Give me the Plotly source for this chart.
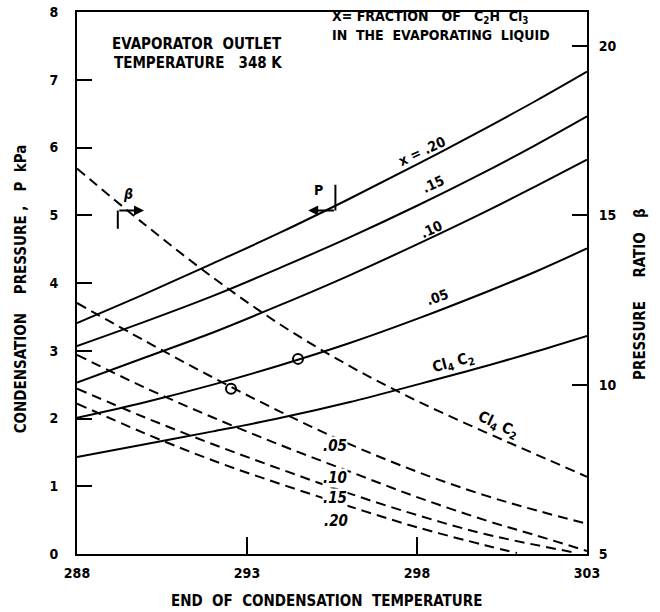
import plotly.graph_objects as go

# ---- data ----
T = [288, 290, 292, 294, 296, 298, 300, 301.5, 303]

# condensation pressure P (kPa), solid lines, left axis
P_x20 = [3.41, 3.84, 4.29, 4.75, 5.24, 5.75, 6.28, 6.69, 7.12]
P_x15 = [3.07, 3.43, 3.81, 4.23, 4.67, 5.14, 5.64, 6.04, 6.46]
P_x10 = [2.53, 2.90, 3.27, 3.68, 4.11, 4.57, 5.05, 5.43, 5.82]
P_x05 = [2.01, 2.24, 2.50, 2.79, 3.11, 3.47, 3.86, 4.17, 4.51]
P_cl4c2 = [1.43, 1.62, 1.81, 2.01, 2.24, 2.50, 2.77, 2.99, 3.22]

# pressure ratio beta, dashed lines, right axis
B_cl4c2 = [16.38, 14.72, 13.16, 11.76, 10.56, 9.52, 8.60, 7.94, 7.28]
B_x05 = [12.41, 11.29, 10.21, 9.19, 8.25, 7.43, 6.73, 6.29, 5.89]
B_x10 = [10.88, 9.91, 9.03, 8.21, 7.44, 6.68, 6.00, 5.55, 5.09]
T_x15 = [288, 290, 292, 294, 296, 298, 300, 302.7]
B_x15 = [9.88, 9.03, 8.24, 7.50, 6.79, 6.15, 5.59, 5.03]
T_x20 = [288, 290, 292, 294, 296, 298, 300, 300.94]
B_x20 = [9.44, 8.56, 7.76, 7.06, 6.41, 5.79, 5.26, 5.03]

# open circles
circ_T_P = [294.5]
circ_P = [2.88]
circ_T_B = [292.53]
circ_B = [9.88]

x_ticks = [288, 293, 298, 303]
y_ticks = [0, 1, 2, 3, 4, 5, 6, 7, 8]
y2_ticks = [5, 10, 15, 20]

FONT = "DejaVu Sans Condensed, Liberation Sans Narrow, Liberation Sans, Arial"

fig = go.Figure()
solid = dict(color="black", width=2)
dashed = dict(color="black", width=2, dash="10px,6px")

for ys in [P_x20, P_x15, P_x10, P_x05, P_cl4c2]:
    fig.add_trace(go.Scatter(x=T, y=ys, mode="lines", line=dict(shape="spline", **solid),
                             showlegend=False, hoverinfo="skip"))
for xs, ys in [(T, B_cl4c2), (T, B_x05), (T, B_x10), (T_x15, B_x15), (T_x20, B_x20)]:
    fig.add_trace(go.Scatter(x=xs, y=ys, mode="lines", yaxis="y2",
                             line=dict(shape="spline", **dashed),
                             showlegend=False, hoverinfo="skip"))
fig.add_trace(go.Scatter(x=circ_T_P, y=circ_P, mode="markers",
                         marker=dict(symbol="circle-open", size=10, color="black", line=dict(width=2)),
                         showlegend=False))
fig.add_trace(go.Scatter(x=circ_T_B, y=circ_B, mode="markers", yaxis="y2",
                         marker=dict(symbol="circle-open", size=10, color="black", line=dict(width=2)),
                         showlegend=False))

tickfont = dict(family=FONT, size=14, color="black", weight="bold")
fig.update_layout(
    width=660, height=612,
    margin=dict(l=77, r=73, t=12, b=58, autoexpand=False),
    paper_bgcolor="white", plot_bgcolor="white",
    font=dict(family=FONT, color="black"),
    xaxis=dict(range=[288, 303], tickvals=x_ticks, ticktext=[str(v) for v in x_ticks],
               ticks="inside", ticklen=17, tickwidth=2, tickcolor="black",
               showline=True, linecolor="black", linewidth=2, mirror=True,
               showgrid=False, zeroline=False, tickfont=tickfont,
               ticklabelstandoff=5, automargin=False),
    yaxis=dict(range=[0, 8], tickvals=y_ticks, ticks="inside", ticklen=15, tickwidth=2,
               tickcolor="black", showline=True, linecolor="black", linewidth=2,
               showgrid=False, zeroline=False, tickfont=tickfont,
               ticklabelstandoff=14, automargin=False),
    yaxis2=dict(range=[5, 21], tickvals=y2_ticks, overlaying="y", side="right",
                ticks="inside", ticklen=15, tickwidth=2, tickcolor="black",
                showline=True, linecolor="black", linewidth=2,
                showgrid=False, zeroline=False, tickfont=tickfont,
                ticklabelstandoff=7, automargin=False),
)

ann = []
def txt(x, y, s, size=14, angle=0, xanchor="center", ref=("x", "y"), bg=None):
    d = dict(x=x, y=y, text=s, showarrow=False, xref=ref[0], yref=ref[1],
             font=dict(family=FONT, size=size, color="black"), textangle=angle,
             xanchor=xanchor, yanchor="middle")
    if bg:
        d["bgcolor"] = bg
        d["borderpad"] = 0
    ann.append(d)

txt(288.97, 7.53, "<b>EVAPORATOR  OUTLET</b>", xanchor="left", size=15)
txt(289.03, 7.24, "<b>TEMPERATURE   348 K</b>", xanchor="left", size=15)
txt(295.44, 7.93, "<b>X= FRACTION   OF   C<sub>2</sub>H  Cl<sub>3</sub></b>", xanchor="left", size=14)
txt(295.44, 7.66, "<b>IN  THE  EVAPORATING  LIQUID</b>", xanchor="left", size=14)

txt(298.15, 5.95, "<b>x = .20</b>", angle=-25)
txt(298.47, 5.46, "<b>.15</b>", angle=-25)
txt(298.44, 4.80, "<b>.10</b>", angle=-25)
txt(298.6, 3.80, "<b>.05</b>", angle=-20)
txt(299.06, 2.83, "<b>Cl<sub>4</sub> C<sub>2</sub></b>", angle=-15, size=15)
txt(300.38, 1.91, "<b>Cl<sub>4</sub> C<sub>2</sub></b>", angle=25, size=15)

txt(295.2, 1.59, "<b><i>.05</i></b>", xanchor="left", bg="white", size=15)
txt(295.2, 1.12, "<b><i>.10</i></b>", xanchor="left", bg="white", size=15)
txt(295.2, 0.82, "<b><i>.15</i></b>", xanchor="left", bg="white", size=15)
txt(295.2, 0.48, "<b><i>.20</i></b>", xanchor="left", size=15)

txt(289.5, 5.32, "<b><i>β</i></b>")
txt(295.1, 5.37, "<b>P</b>")

# axis titles
txt(-0.108, 0.49, "<b>CONDENSATION    PRESSURE ,   P  kPa</b>", angle=-90, size=15, ref=("paper", "paper"))
txt(1.104, 0.48, "<b>PRESSURE     RATIO   β</b>", angle=-90, size=15, ref=("paper", "paper"))
txt(0.49, -0.087, "<b>END  OF  CONDENSATION  TEMPERATURE</b>", size=15, ref=("paper", "paper"))

# direction indicators
ann.append(dict(x=289.97, y=5.07, ax=289.2, ay=5.07, xref="x", yref="y", axref="x", ayref="y",
                showarrow=True, arrowhead=2, arrowsize=1, arrowwidth=2, arrowcolor="black", text=""))
ann.append(dict(x=294.8, y=5.07, ax=295.6, ay=5.07, xref="x", yref="y", axref="x", ayref="y",
                showarrow=True, arrowhead=2, arrowsize=1, arrowwidth=2, arrowcolor="black", text=""))
fig.update_layout(annotations=ann)
fig.add_shape(type="line", x0=289.2, x1=289.2, y0=5.07, y1=4.8, xref="x", yref="y",
              line=dict(color="black", width=2))
fig.add_shape(type="line", x0=295.6, x1=295.6, y0=5.07, y1=5.45, xref="x", yref="y",
              line=dict(color="black", width=2))

fig.write_html("out.html")
